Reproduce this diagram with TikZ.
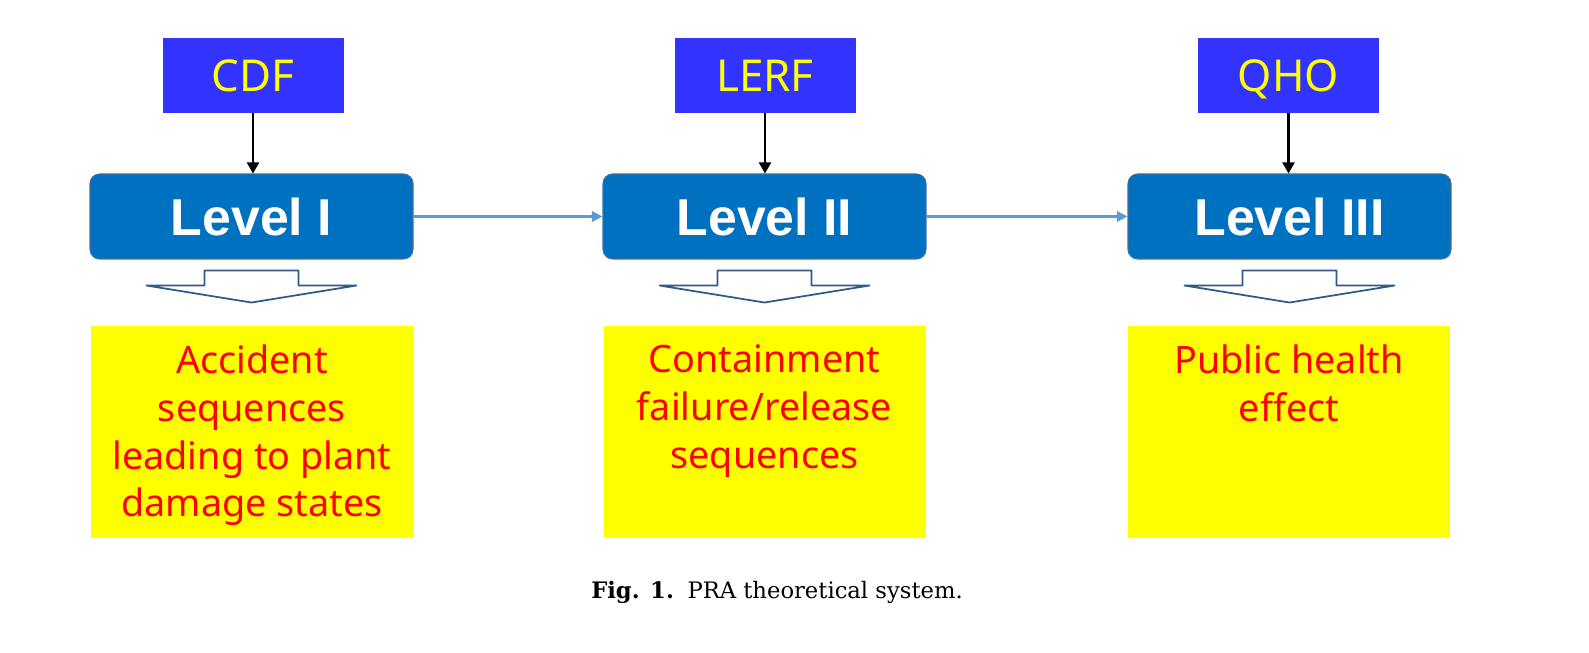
\documentclass[tikz,border=0pt]{standalone}
\usepackage{fontspec}
\setmainfont{DejaVu Serif}
\newfontfamily\diagfont{Noto Sans}
\newfontfamily\levelfont{Liberation Sans}
\usetikzlibrary{positioning,arrows.meta,calc}
\definecolor{prablue}{HTML}{3333FF}
\definecolor{prayellow}{HTML}{FFFF00}
\definecolor{pralevel}{HTML}{0070C0}
\definecolor{praedge}{HTML}{41719C}
\definecolor{pralink}{HTML}{5B9BD5}
\definecolor{prared}{HTML}{FF0000}
\definecolor{prahollow}{HTML}{2E5C8A}

\begin{document}
\begin{tikzpicture}[x=1cm, y=1cm,
  metric/.style={fill=prablue, minimum width=3.62cm, minimum height=1.5cm, inner sep=0pt, text height=17.9pt, text depth=0pt, text=prayellow, font=\diagfont\fontsize{25}{30}\selectfont},
  level/.style={draw=praedge, fill=pralevel, rounded corners=5.5pt, line width=0.6pt, minimum width=6.46cm, minimum height=1.70cm, inner sep=0pt, text height=21.2pt, text depth=0pt, text=white, font=\levelfont\bfseries\fontsize{29.5}{34}\selectfont},
  result/.style={fill=prayellow, minimum width=6.44cm, minimum height=4.25cm, inner sep=0pt},
  restext/.style={anchor=north, inner sep=0pt, align=center, text=prared, font=\diagfont\fontsize{21.5}{27.2}\selectfont},
  down/.style={-{Triangle[length=2.2mm, width=2.4mm]}, line width=1.2pt, draw=black},
  link/.style={-{Triangle[length=2.1mm, width=2.1mm]}, line width=1.2pt, draw=pralink},
  hollow/.style={draw=prahollow, fill=white, line width=1pt, line join=round}
]
\path (0,0) rectangle (31.78,-13.06);
% ---------- metrics ----------
\node[metric] (m1) at (5.06,-1.51) {CDF};
\node[metric] (m2) at (15.30,-1.51) {LERF};
\node[metric] (m3) at (25.77,-1.51) {QHO};
% ---------- levels ----------
\node[level] (l1) at (5.03,-4.33) {Level I};
\node[level] (l2) at (15.29,-4.33) {Level II};
\node[level] (l3) at (25.79,-4.33) {Level III};
\draw[down] (m1.south) -- (m1.south |- l1.north);
\draw[down] (m2.south) -- (m2.south |- l2.north);
\draw[down] (m3.south) -- (m3.south |- l3.north);
\draw[link] (l1) -- (l2);
\draw[link] (l2) -- (l3);
% hollow arrows under each level
\foreach \n in {l1,l2,l3}{
  \draw[hollow] ($(\n.south)+(-0.94,-0.22)$) -- ++(1.88,0) -- ++(0,-0.30) -- ++(1.16,0)
    -- ($(\n.south)+(0,-0.86)$) -- ($(\n.south)+(-2.10,-0.52)$) -- ++(1.16,0) -- cycle;}
% ---------- results ----------
\node[result] (y1) at (5.04,-8.64) {};
\node[result] (y2) at (15.29,-8.64) {};
\node[result] (y3) at (25.78,-8.64) {};
\node[restext] (t1) at ($(y1.north)+(0,-0.38)$) {Accident\\ sequences\\ leading to plant\\ damage states};
\node[restext] (t2) at ($(y2.north)+(0,-0.38)$) {Containment\\ failure/release\\ sequences};
\node[restext] (t3) at ($(y3.north)+(0,-0.38)$) {Public health\\ effect};
% ---------- caption ----------
\node[anchor=base, font=\fontsize{12.9}{15}\selectfont] (cap) at (15.54,-11.96) {\textbf{Fig. 1.}\hspace{0.6em}PRA theoretical system.};
\end{tikzpicture}
\end{document}
